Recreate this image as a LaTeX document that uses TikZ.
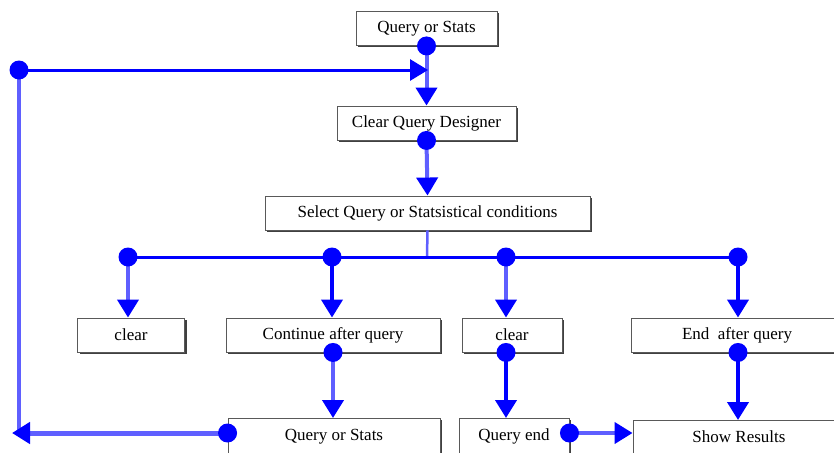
\documentclass[tikz,border=0pt]{standalone}
\usepackage{fontspec}
\setmainfont{Liberation Serif}
\usetikzlibrary{positioning,arrows.meta,shadows}
\definecolor{flowblue}{RGB}{0,0,255}
\definecolor{flowpale}{RGB}{95,95,255}
\tikzset{stepbox/.style={draw=black!65, line width=0.9pt, fill=white, inner sep=0pt, minimum height=34pt, font=\fontsize{17}{17}\selectfont, drop shadow={shadow xshift=2pt, shadow yshift=-2pt, fill=black!75, opacity=1}}}
\tikzset{cutbox/.style={stepbox, anchor=north, minimum height=0pt, text height=22pt, text depth=16pt}}
\tikzset{link/.style={draw=flowblue, line width=4pt, -{Triangle[width=21pt,length=18pt,color=flowblue]}}}
\tikzset{wire/.style={draw=flowblue, line width=4pt}}
\tikzset{pale/.style={draw=flowpale}}
\tikzset{dot/.style={fill=flowblue}}
\begin{document}
\begin{tikzpicture}[x=1pt,y=-1pt]
\useasboundingbox (0,0) rectangle (834,452);
% boxes
\node[stepbox, minimum width=141pt] (top) at (426.5,28.5) {Query or Stats};
\node[stepbox, minimum width=179pt] (cqd) at (426.5,123) {Clear Query Designer};
\node[stepbox, minimum width=325pt] (sel) at (427.5,213) {Select Query or Statsistical conditions};
\node[stepbox, minimum width=107pt] (clearA) at (131,335) {clear};
\node[stepbox, minimum width=214pt] (cont) at (333,335) {Continue after query};
\node[stepbox, minimum width=100pt] (clearB) at (512,335) {clear};
\node[stepbox, minimum width=212pt] (endq) at (737,335) {End~ after query};
\node[cutbox, minimum width=212pt] (qs) at (334,418) {Query or Stats};
\node[cutbox, minimum width=110pt] (qend) at (514,418) {Query end};
\node[cutbox, minimum width=212pt] (show) at (739,420) {Show Results};
% helper points
\coordinate (looptop) at (19,70);
\coordinate (loopbot) at (19,433);
\coordinate (join) at (428,70);
\coordinate (bus) at (427,257);
\coordinate (bA) at (128,257);
\coordinate (bB) at (332,257);
\coordinate (bC) at (506,257);
\coordinate (bD) at (738,257);
% top part
\draw[link, pale] (top.south) -- (cqd.north);
\draw[link, line width=3pt] (looptop) -- (join);
\draw[wire, pale] (looptop) -- (loopbot);
\draw[link, pale, line width=5pt] (qs.west |- loopbot) -- ([xshift=-7pt]loopbot);
\draw[link, pale] (cqd.south) -- (sel.north);
% branches
\draw[wire, pale, line width=2.5pt] (sel.south) -- (bus);
\draw[wire, line width=3pt] (bA) -- (bD);
\draw[link, pale] (bA) -- (bA |- clearA.north);
\draw[link] (bB) -- (bB |- cont.north);
\draw[link, pale] (bC) -- (bC |- clearB.north);
\draw[link] (bD) -- (bD |- endq.north);
% lower part
\draw[link, pale] (cont.south) -- (cont.south |- qs.north);
\draw[link] (bC |- clearB.south) -- (bC |- qend.north);
\draw[link] (bD |- endq.south) -- (bD |- show.north);
\draw[link, pale] (qend.east |- loopbot) -- (show.west |- loopbot);
% dots
\foreach \p in {top.south, cqd.south, bA, bB, bC, bD, looptop, cont.south}
  \fill[dot] (\p) circle (9.5pt);
\fill[dot] (qs.west |- loopbot) circle (9.5pt);
\fill[dot] (qend.east |- loopbot) circle (9.5pt);
\fill[dot] (bC |- clearB.south) circle (9.5pt);
\fill[dot] (bD |- endq.south) circle (9.5pt);
\end{tikzpicture}
\end{document}
